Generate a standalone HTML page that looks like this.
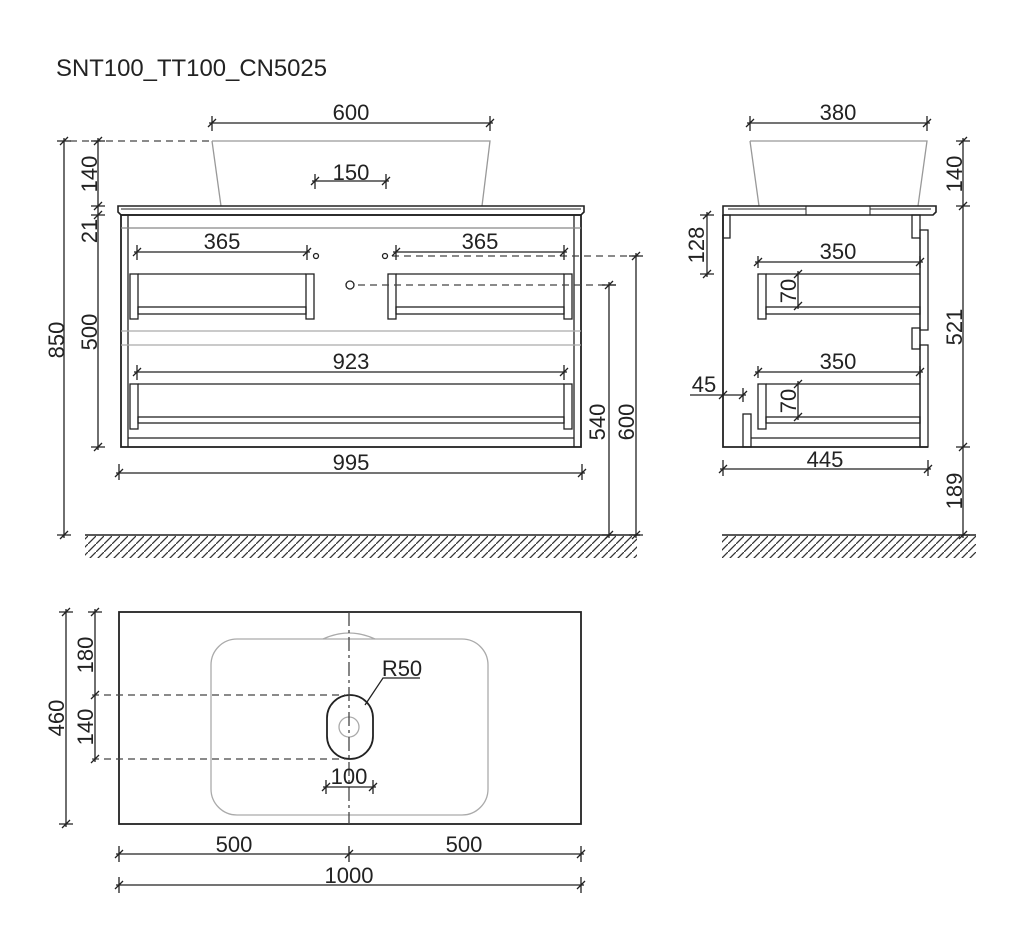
<!DOCTYPE html>
<html><head><meta charset="utf-8"><style>
html,body{margin:0;padding:0;background:#fff;}
svg{display:block}
text{font-family:"Liberation Sans","DejaVu Sans",sans-serif;font-size:22px;fill:#222;}
</style></head><body>
<svg width="1024" height="936" viewBox="0 0 1024 936" xmlns="http://www.w3.org/2000/svg">
<defs>
<pattern id="h" width="8" height="8" patternUnits="userSpaceOnUse">
<line x1="0" y1="8" x2="8" y2="0" stroke="#333" stroke-width="1.3"/>
</pattern>
</defs>
<text x="56" y="76" style="font-size:24px" textLength="271" lengthAdjust="spacingAndGlyphs">SNT100_TT100_CN5025</text>

<g stroke="#222" stroke-width="1.3" fill="none">
<path d="M212 141 L490 141 L482 206 M212 141 L221 206" stroke="#999"/>
<path d="M118 206 L584 206 L584 212 L581 215 L121 215 L118 212 Z" stroke-width="1.6"/>
<line x1="121" y1="209" x2="581" y2="209" stroke-width="1"/>
<rect x="121" y="215" width="460" height="232" stroke-width="1.8"/>
<line x1="128" y1="215" x2="128" y2="447"/>
<line x1="574" y1="215" x2="574" y2="447"/>
<line x1="121" y1="228" x2="581" y2="228" stroke="#888"/>
<line x1="121" y1="331" x2="581" y2="331" stroke="#aaa"/>
<line x1="121" y1="345" x2="581" y2="345" stroke="#aaa"/>
<line x1="128" y1="438" x2="574" y2="438"/>
<rect x="130" y="274" width="8" height="45"/>
<rect x="306" y="274" width="8" height="45"/>
<line x1="138" y1="274" x2="306" y2="274"/>
<rect x="138" y="307" width="168" height="7"/>
<rect x="388" y="274" width="8" height="45"/>
<rect x="564" y="274" width="8" height="45"/>
<line x1="396" y1="274" x2="564" y2="274"/>
<rect x="396" y="307" width="168" height="7"/>
<rect x="130" y="384" width="8" height="45"/>
<rect x="564" y="384" width="8" height="45"/>
<line x1="138" y1="384" x2="564" y2="384"/>
<rect x="138" y="417" width="426" height="6"/>
<circle cx="316" cy="256" r="2.5"/>
<circle cx="385" cy="256" r="2.5"/>
<circle cx="350" cy="285" r="4"/>
<g stroke-dasharray="7,5" stroke="#444">
<line x1="70" y1="141" x2="210" y2="141"/>
<line x1="392" y1="256" x2="644" y2="256"/>
<line x1="358" y1="285" x2="616" y2="285"/>
</g>
<line x1="85" y1="535" x2="640" y2="535" stroke-width="1.5"/>
<rect x="85" y="536" width="552" height="22" fill="url(#h)" stroke="none"/>
<line x1="722" y1="535" x2="976" y2="535" stroke-width="1.5"/>
<rect x="722" y="536" width="254" height="22" fill="url(#h)" stroke="none"/>

<g>
<line x1="209" y1="123" x2="493" y2="123"/><path d="M208 127l8-8M486 127l8-8M212 116v15M490 116v15"/>
<line x1="312" y1="181" x2="389" y2="181"/><path d="M311 185l8-8M382 185l8-8M315 174v15M386 174v15"/>
<line x1="134" y1="252" x2="310" y2="252"/><path d="M133 256l8-8M303 256l8-8M137 245v15M307 245v15"/>
<line x1="393" y1="252" x2="567" y2="252"/><path d="M392 256l8-8M560 256l8-8M396 245v15M564 245v15"/>
<line x1="134" y1="372" x2="567" y2="372"/><path d="M133 376l8-8M560 376l8-8M137 365v15M564 365v15"/>
<line x1="116" y1="473" x2="585" y2="473"/><path d="M115 477l8-8M578 477l8-8M119 464v16M582 464v16"/>
</g>
<g>
<line x1="64" y1="138" x2="64" y2="538"/><path d="M60 145l8-8M60 539l8-8M57 141h14M57 535h14"/>
<line x1="98" y1="138" x2="98" y2="450"/><path d="M94 145l8-8M94 210l8-8M94 219l8-8M94 451l8-8M91 141h14M91 206h14M91 215h14M91 447h14"/>
<line x1="609" y1="282" x2="609" y2="538"/><path d="M605 289l8-8M605 539l8-8M602 285h14M602 535h14"/>
<line x1="636" y1="253" x2="636" y2="538"/><path d="M632 260l8-8M632 539l8-8M629 256h14M629 535h14"/>
</g>

<path d="M750 141 L927 141 L918 206 M750 141 L759 206" stroke="#999"/>
<path d="M723 206 L936 206 L936 212 L933 215 L723 215 Z" stroke-width="1.6"/>
<line x1="728" y1="209" x2="806" y2="209" stroke-width="1"/>
<line x1="870" y1="209" x2="931" y2="209" stroke-width="1"/>
<line x1="806" y1="206" x2="806" y2="215" stroke-width="1"/>
<line x1="870" y1="206" x2="870" y2="215" stroke-width="1"/>
<path d="M723 215 L723 447 L928 447" stroke-width="1.8"/>
<rect x="723" y="215" width="7" height="23"/>
<rect x="912" y="215" width="8" height="23"/>
<rect x="920" y="230" width="8" height="100"/>
<rect x="912" y="328" width="8" height="21"/>
<rect x="920" y="345" width="8" height="102"/>
<line x1="920" y1="238" x2="920" y2="447"/>
<rect x="758" y="274" width="8" height="45"/><line x1="766" y1="274" x2="920" y2="274"/><rect x="766" y="307" width="154" height="7"/>
<rect x="758" y="384" width="8" height="45"/><line x1="766" y1="384" x2="920" y2="384"/><rect x="766" y="417" width="154" height="6"/>
<rect x="743" y="414" width="8" height="33"/><line x1="751" y1="438" x2="920" y2="438"/>
<line x1="747" y1="123" x2="930" y2="123"/><path d="M746 127l8-8M923 127l8-8M750 116v15M927 116v15"/>
<line x1="755" y1="262" x2="923" y2="262"/><path d="M754 266l8-8M916 266l8-8M758 256v12M920 256v12"/>
<line x1="755" y1="372" x2="923" y2="372"/><path d="M754 376l8-8M916 376l8-8M758 366v12M920 366v12"/>
<line x1="720" y1="469" x2="931" y2="469"/><path d="M719 473l8-8M924 473l8-8M723 460v16M928 460v16"/>
<line x1="690" y1="395" x2="746" y2="395"/><path d="M719 399l8-8M739 399l8-8M743 388v14"/>
<line x1="707" y1="212" x2="707" y2="277"/><path d="M703 219l8-8M703 278l8-8M700 215h14M700 274h14"/>
<line x1="798" y1="271" x2="798" y2="309"/><path d="M794 278l8-8M794 310l8-8"/>
<line x1="798" y1="381" x2="798" y2="420"/><path d="M794 388l8-8M794 421l8-8"/>
<line x1="963" y1="138" x2="963" y2="538"/><path d="M959 145l8-8M959 210l8-8M959 451l8-8M959 539l8-8M956 141h14M956 206h14M956 447h14M956 535h14"/>

<rect x="119" y="612" width="462" height="212" stroke-width="1.8"/>
<rect x="211" y="639" width="277" height="176" rx="26" stroke="#aaa"/>
<path d="M323 639 Q349 627 375 639" stroke="#aaa"/>
<rect x="327" y="695" width="46" height="64" rx="23" stroke-width="1.8"/>
<circle cx="349" cy="727" r="10" stroke="#aaa"/>
<line x1="349" y1="612" x2="349" y2="824" stroke-dasharray="14,4,3,4" stroke="#444"/>
<g stroke-dasharray="7,5" stroke="#444">
<line x1="92" y1="695" x2="345" y2="695"/>
<line x1="92" y1="759" x2="345" y2="759"/>
</g>
<path d="M365 705 L383 678 L420 678"/>
<line x1="66" y1="609" x2="66" y2="827"/><path d="M62 616l8-8M62 828l8-8M59 612h14M59 824h14"/>
<line x1="95" y1="609" x2="95" y2="762"/><path d="M91 616l8-8M91 699l8-8M91 763l8-8M88 612h14"/>
<line x1="323" y1="787" x2="376" y2="787"/><path d="M322 791l8-8M369 791l8-8M326 780v14M373 780v14"/>
<line x1="116" y1="854" x2="584" y2="854"/><path d="M115 858l8-8M345 858l8-8M577 858l8-8M119 846v16M349 846v16M581 846v16"/>
<line x1="116" y1="885" x2="584" y2="885"/><path d="M115 889l8-8M577 889l8-8M119 877v16M581 877v16"/>
</g>

<g text-anchor="middle">
<text x="351" y="120">600</text>
<text x="351" y="180">150</text>
<text x="222" y="249">365</text>
<text x="480" y="249">365</text>
<text x="351" y="369">923</text>
<text x="351" y="470">995</text>
<text x="838" y="120">380</text>
<text x="838" y="259">350</text>
<text x="838" y="369">350</text>
<text x="825" y="467">445</text>
<text x="704" y="392">45</text>
<text x="234" y="852">500</text>
<text x="464" y="852">500</text>
<text x="349" y="883">1000</text>
<text x="349" y="784">100</text>
<text x="402" y="676">R50</text>
</g>
<g text-anchor="middle">
<text transform="translate(64,340) rotate(-90)">850</text>
<text transform="translate(97,174) rotate(-90)">140</text>
<text transform="translate(97,231) rotate(-90)">21</text>
<text transform="translate(97,332) rotate(-90)">500</text>
<text transform="translate(605,422) rotate(-90)">540</text>
<text transform="translate(634,422) rotate(-90)">600</text>
<text transform="translate(704,245) rotate(-90)">128</text>
<text transform="translate(796,291) rotate(-90)">70</text>
<text transform="translate(796,401) rotate(-90)">70</text>
<text transform="translate(962,174) rotate(-90)">140</text>
<text transform="translate(962,327) rotate(-90)">521</text>
<text transform="translate(962,491) rotate(-90)">189</text>
<text transform="translate(64,718) rotate(-90)">460</text>
<text transform="translate(93,655) rotate(-90)">180</text>
<text transform="translate(93,727) rotate(-90)">140</text>
</g>
</svg>
</body></html>
